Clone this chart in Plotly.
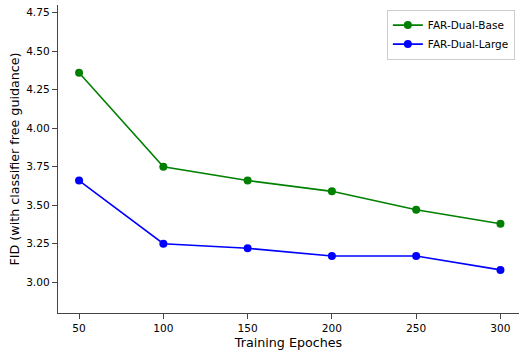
import plotly.graph_objects as go

epochs = [50, 100, 150, 200, 250, 300]
fid_base = [4.36, 3.75, 3.66, 3.59, 3.47, 3.38]
fid_large = [3.66, 3.25, 3.22, 3.17, 3.17, 3.08]
y_ticks = [3.00, 3.25, 3.50, 3.75, 4.00, 4.25, 4.50, 4.75]

fig = go.Figure()
fig.add_trace(go.Scatter(x=epochs, y=fid_base, mode="lines+markers", name="FAR-Dual-Base",
                         line=dict(color="green", width=1.6), marker=dict(color="green", size=8)))
fig.add_trace(go.Scatter(x=epochs, y=fid_large, mode="lines+markers", name="FAR-Dual-Large",
                         line=dict(color="blue", width=1.6), marker=dict(color="blue", size=8)))

font_family = "DejaVu Sans"
fig.update_layout(
    width=519, height=352,
    margin=dict(l=58, r=0, t=5, b=39, autoexpand=False),
    plot_bgcolor="white", paper_bgcolor="white",
    font=dict(family=font_family, size=10, color="black"),
    showlegend=True,
    legend=dict(x=0.991, y=0.985, xanchor="right", yanchor="top",
                bgcolor="rgba(255,255,255,0.8)", bordercolor="#cccccc", borderwidth=1,
                font=dict(size=10.5, family=font_family), tracegroupgap=0),
    xaxis=dict(range=[37.5, 311], tickvals=epochs, ticktext=[str(e) for e in epochs],
               automargin=False,
               showgrid=False, zeroline=False, showline=True, linecolor="#444", linewidth=1.3,
               ticks="outside", ticklen=5, tickcolor="#444", tickwidth=1,
               tickfont=dict(size=10.6, family=font_family),
               title=dict(text="Training Epoches", font=dict(size=12.7, family=font_family), standoff=5)),
    yaxis=dict(range=[2.8, 4.8], tickvals=y_ticks, ticktext=[f"{v:.2f}" for v in y_ticks],
               automargin=False,
               showgrid=False, zeroline=False, showline=True, linecolor="#444", linewidth=1.3,
               ticks="outside", ticklen=5, tickcolor="#444", tickwidth=1,
               tickfont=dict(size=10.6, family=font_family),
               title=dict(text="FID (with classifier free guidance)", font=dict(size=12.7, family=font_family), standoff=3)),
)
fig.write_html("out.html", config={"displayModeBar": False},
               post_script="document.body.style.margin='0px';")
